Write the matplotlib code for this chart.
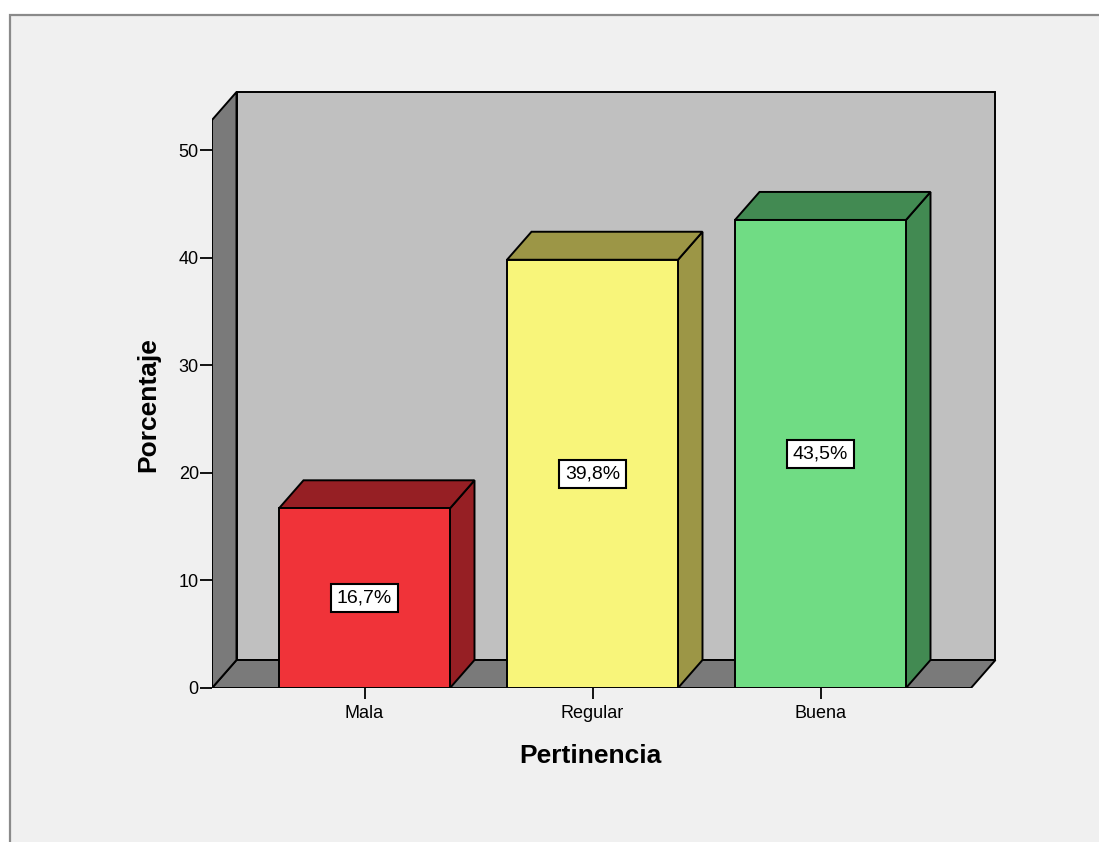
import matplotlib
matplotlib.use("Agg")
import matplotlib.pyplot as plt
from matplotlib.patches import Polygon, Rectangle

plt.rcParams['font.family'] = ['Liberation Sans', 'DejaVu Sans']

categorias = ["Mala", "Regular", "Buena"]
porcentajes = [16.7, 39.8, 43.5]
etiquetas = ["16,7%", "39,8%", "43,5%"]
y_ticks = [0, 10, 20, 30, 40, 50]

frente = ["#f03339", "#f8f57a", "#70dc84"]
sombra = ["#961f24", "#9c9646", "#428a52"]

W, H = 1099, 842
fig = plt.figure(figsize=(W / 100, H / 100), dpi=100)
fig.patch.set_facecolor("white")

# panel gris claro con borde, como en la ventana del visor
panel = Rectangle((10 / W, -0.01), 1.02, (H - 15) / H + 0.01, transform=fig.transFigure,
                  facecolor="#f0f0f0", edgecolor="#8a8a8a", linewidth=1.6, zorder=-10)
fig.patches.append(panel)

# escala: 0 en px 688, 10.76 px por punto porcentual; 228 px entre categorias
px_y = 10.76
px_x = 228.0
x_px0, y_px0 = 212, 688
x_px1, y_px1 = 1000, 80
xc0 = 364.5
ax = fig.add_axes([x_px0 / W, (H - y_px0) / H, (x_px1 - x_px0) / W, (y_px0 - y_px1) / H])
xmin = (x_px0 - xc0) / px_x
xmax = (x_px1 - xc0) / px_x
ax.set_xlim(xmin, xmax)
ax.set_ylim(0, (y_px0 - y_px1) / px_y)
ax.patch.set_alpha(0)
for s in ax.spines.values():
    s.set_visible(False)

dx = 24.5 / px_x      # profundidad en x
dy = 28.0 / px_y      # profundidad en y
x0 = xmin
x1 = (971 - xc0) / px_x
ytop = (y_px0 - 120) / px_y
gris = "#7a7a7a"
lw = 1.4

# pared del fondo, suelo y pared izquierda
ax.add_patch(Polygon([(x0 + dx, dy), (x1 + dx, dy), (x1 + dx, ytop + dy), (x0 + dx, ytop + dy)],
                     closed=True, facecolor="#c0c0c0", edgecolor="black", lw=lw, zorder=1))
ax.add_patch(Polygon([(x0, 0), (x1, 0), (x1 + dx, dy), (x0 + dx, dy)],
                     closed=True, facecolor=gris, edgecolor="black", lw=lw, zorder=2))
ax.add_patch(Polygon([(x0, 0), (x0 + dx, dy), (x0 + dx, ytop + dy), (x0, ytop)],
                     closed=True, facecolor=gris, edgecolor="black", lw=lw, zorder=2))

# barras 3D
w = 0.375
for i, v in enumerate(porcentajes):
    a, b = i - w, i + w
    ax.add_patch(Polygon([(b, 0), (b + dx, dy), (b + dx, v + dy), (b, v)],
                         closed=True, facecolor=sombra[i], edgecolor="black", lw=lw, zorder=3))
    ax.add_patch(Polygon([(a, v), (b, v), (b + dx, v + dy), (a + dx, v + dy)],
                         closed=True, facecolor=sombra[i], edgecolor="black", lw=lw, zorder=3))
    ax.add_patch(Rectangle((a, 0), b - a, v, facecolor=frente[i], edgecolor="black", lw=lw, zorder=4))
    ax.text(i, v / 2, etiquetas[i], ha="center", va="center", fontsize=14, zorder=5,
            bbox=dict(boxstyle="square,pad=0.28", facecolor="white", edgecolor="black", lw=1.5))

ax.set_yticks(y_ticks)
ax.set_xticks(range(len(categorias)))
ax.set_xticklabels(categorias)
ax.tick_params(axis="y", length=8.5, width=1.3, pad=1, labelsize=13, color="black")
ax.tick_params(axis="x", length=8, width=1.3, pad=4, labelsize=13, color="black")

ax.set_xlabel("Pertinencia", fontsize=19, fontweight="bold")
ax.set_ylabel("Porcentaje", fontsize=19, fontweight="bold")
ax.xaxis.label.set_va("center")
ax.yaxis.label.set_va("center")
ax.xaxis.set_label_coords((590 - x_px0) / (x_px1 - x_px0), (y_px0 - 756) / (y_px0 - y_px1))
ax.yaxis.set_label_coords((148 - x_px0) / (x_px1 - x_px0), (y_px0 - 405) / (y_px0 - y_px1))

fig.savefig("out.png", dpi=100)
